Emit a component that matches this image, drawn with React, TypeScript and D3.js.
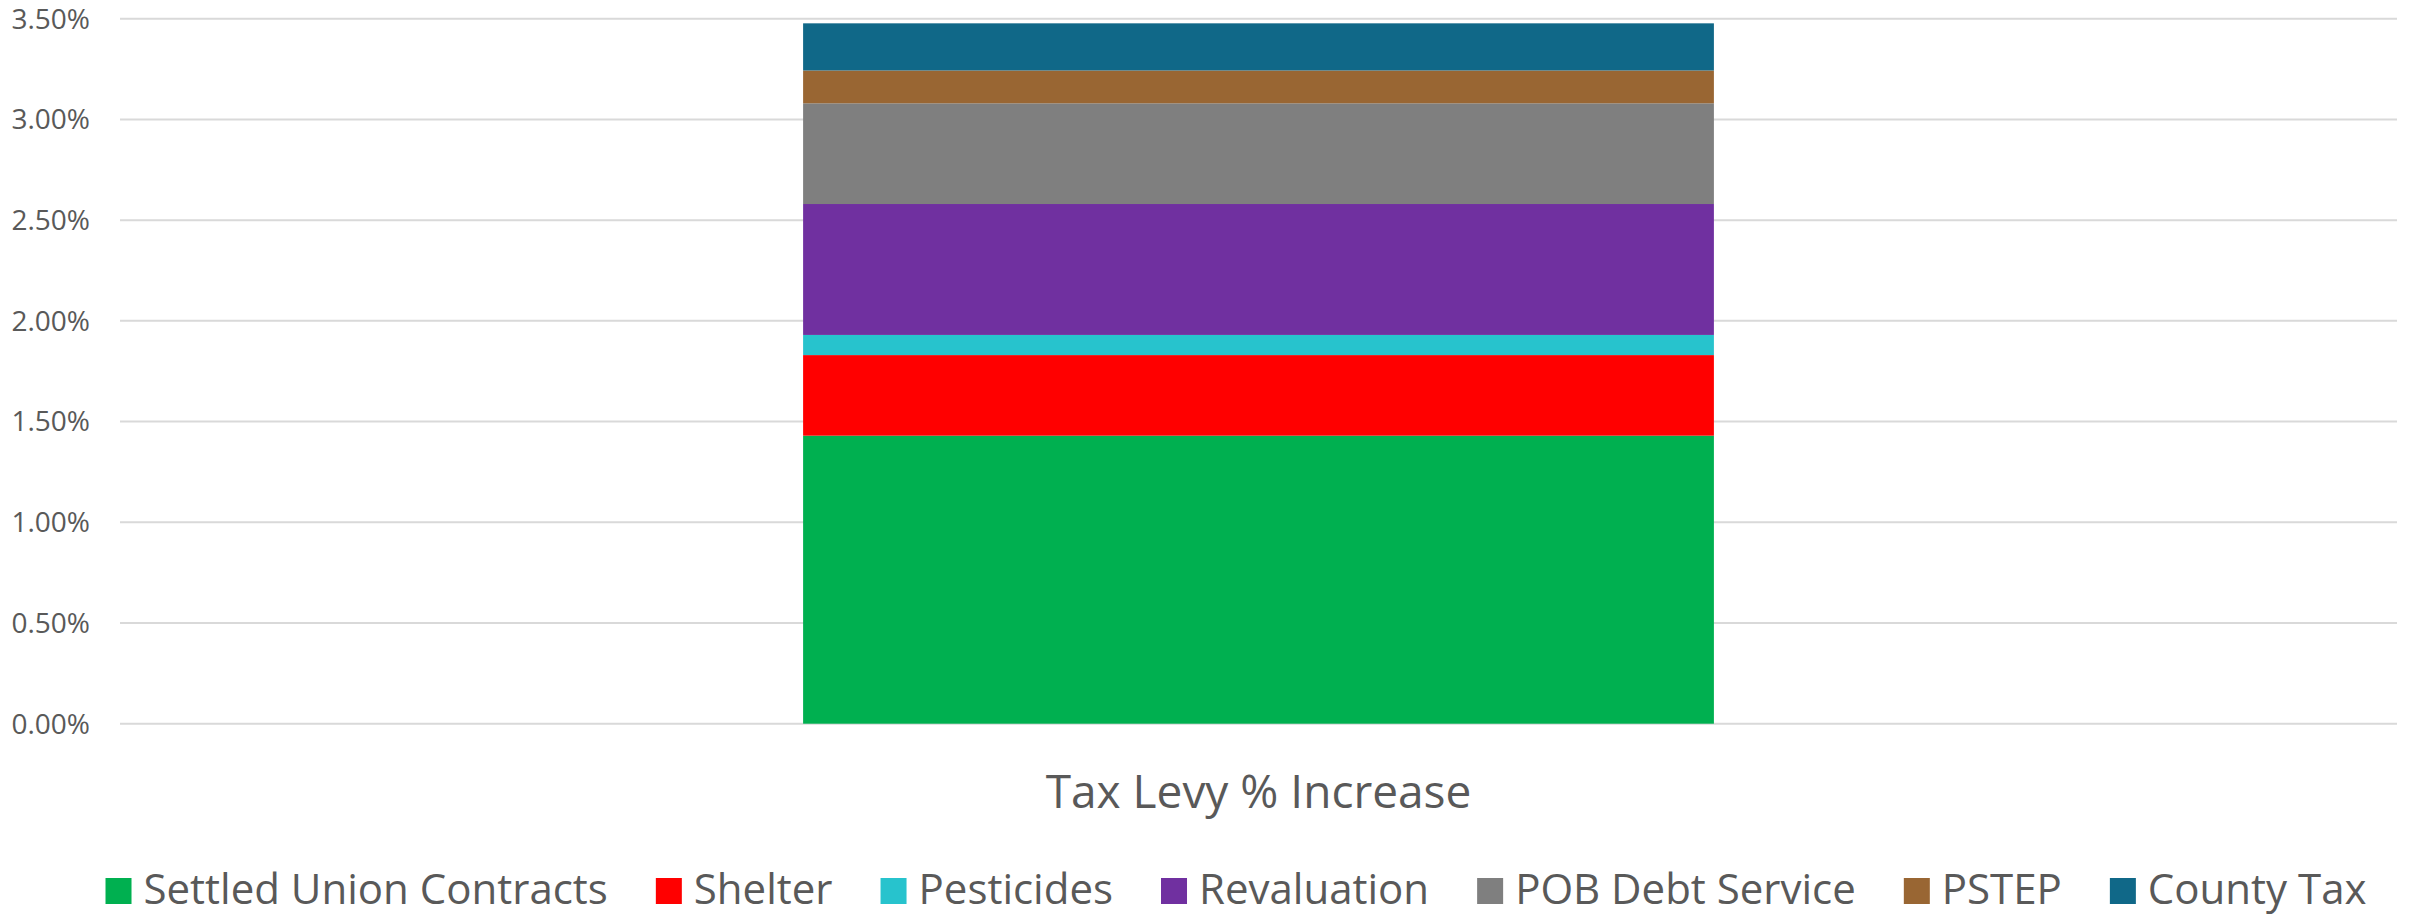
import React, { useEffect, useRef } from 'react';
import * as d3 from 'd3';

// one stacked column, values in percent
const categories = ['Tax Levy % Increase'];
const seriesNames = ['Settled Union Contracts', 'Shelter', 'Pesticides', 'Revaluation', 'POB Debt Service', 'PSTEP', 'County Tax'];
const seriesValues = [1.43, 0.40, 0.10, 0.65, 0.50, 0.163, 0.234];
const seriesColors = ['#00b050', '#ff0000', '#27c3cd', '#7030a0', '#7f7f7f', '#996633', '#106888'];
const tickValues = [0, 0.5, 1, 1.5, 2, 2.5, 3, 3.5];

const W = 2417, H = 917;
const FONT = '"Open Sans", sans-serif';
const TEXT = '#595959';

export default function App() {
  const ref = useRef<SVGSVGElement>(null);

  useEffect(() => {
    const svg = d3.select(ref.current);
    svg.selectAll('*').remove();

    const margin = { left: 120, right: 20, top: 18.7, bottom: 193.3 };
    const innerH = H - margin.top - margin.bottom;

    const x = d3.scaleBand().domain(categories).range([margin.left, W - margin.right]).paddingInner(0.6).paddingOuter(0.3);
    const y = d3.scaleLinear().domain([0, 3.5]).range([margin.top + innerH, margin.top]);

    // gridlines
    svg.append('g').selectAll('line')
      .data(tickValues)
      .enter().append('line')
      .attr('x1', margin.left).attr('x2', W - margin.right)
      .attr('y1', (d: any) => y(d)).attr('y2', (d: any) => y(d))
      .attr('stroke', '#d9d9d9').attr('stroke-width', 2);

    // tick labels
    svg.append('g').selectAll('text')
      .data(tickValues)
      .enter().append('text')
      .attr('x', 90).attr('y', (d: any) => y(d))
      .attr('dy', '0.35em')
      .attr('text-anchor', 'end')
      .style('font-family', FONT).style('font-size', '28px').style('fill', TEXT)
      .text((d: any) => d.toFixed(2) + '%');

    // stacked segments
    const row: any = { cat: categories[0] };
    seriesNames.forEach((n, i) => { row[n] = seriesValues[i]; });
    const stacked = d3.stack().keys(seriesNames)([row]);

    svg.append('g').selectAll('rect')
      .data(stacked)
      .enter().append('rect')
      .attr('x', x(categories[0]) as number)
      .attr('width', x.bandwidth())
      .attr('y', (s: any) => y(s[0][1]))
      .attr('height', (s: any) => y(s[0][0]) - y(s[0][1]))
      .attr('fill', (_s: any, i: number) => seriesColors[i]);

    // category label
    svg.append('text')
      .attr('x', (x(categories[0]) as number) + x.bandwidth() / 2)
      .attr('y', 808)
      .attr('text-anchor', 'middle')
      .style('font-family', FONT).style('font-size', '46px').style('fill', TEXT)
      .text(categories[0]);

    // legend, laid out from measured text widths
    const box = 26, gapIn = 12, gapOut = 48;
    const lg = svg.append('g');
    const items = lg.selectAll('g')
      .data(seriesNames)
      .enter().append('g');
    items.append('rect')
      .attr('width', box).attr('height', box)
      .attr('y', 878)
      .attr('fill', (_d: any, i: number) => seriesColors[i]);
    items.append('text')
      .attr('x', box + gapIn).attr('y', 904)
      .style('font-family', FONT).style('font-size', '42px').style('fill', TEXT)
      .text((d: any) => d);

    const widths: number[] = [];
    items.each(function () {
      const t = d3.select(this).select('text').node() as SVGTextElement;
      widths.push(box + gapIn + t.getComputedTextLength());
    });
    const total = d3.sum(widths) + gapOut * (widths.length - 1);
    let cx = 1236 - total / 2;
    items.attr('transform', (_d: any, i: number) => {
      const t = 'translate(' + cx + ',0)';
      cx += widths[i] + gapOut;
      return t;
    });
  }, []);

  return (
    <svg ref={ref} width={W} height={H}
      style={{ position: 'absolute', left: 0, top: 0, background: '#fff' }} />
  );
}
